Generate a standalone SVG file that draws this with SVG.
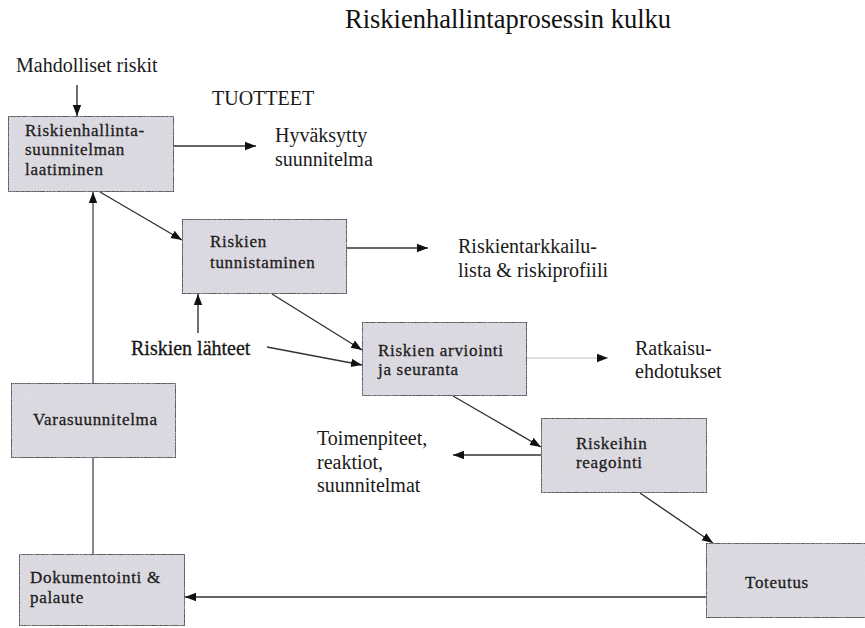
<svg xmlns="http://www.w3.org/2000/svg" width="865" height="628" viewBox="0 0 865 628">
  <style>
    text { font-family: "Liberation Serif", "Times New Roman", serif; }
    .box { fill: #dddbe2; stroke: #3a3a3e; stroke-width: 1.6; filter: url(#grain); }
    .bt { font-size: 17px; letter-spacing: 0.7px; fill: #1c1c1c; stroke: #1c1c1c; stroke-width: 0.3px; }
    .lbl { font-size: 20px; fill: #1a1a1a; }
    .title { font-size: 26.5px; fill: #111; }
    .conn { fill: none; stroke: #333; stroke-width: 1.4; }
    .arr { marker-end: url(#head); }
    .faint { stroke: #c2c2c6; stroke-width: 1.1; }
    .blue { stroke: #4c5566; }
  </style>
  <defs>
    <marker id="head" markerUnits="userSpaceOnUse" markerWidth="12" markerHeight="10" refX="11" refY="5" orient="auto">
      <path d="M0,0.8 L11,5 L0,9.2 Z" fill="#111"/>
    </marker>
    <!-- fine speckle texture for the box fills -->
    <filter id="grain" x="0" y="0" width="1" height="1">
      <feTurbulence type="fractalNoise" baseFrequency="0.9" numOctaves="2" seed="7" result="n"/>
      <feColorMatrix in="n" type="matrix" values="0 0 0 0 0.62  0 0 0 0 0.6  0 0 0 0 0.66  0 0 0 1.4 -0.62" result="speck"/>
      <feComposite in="speck" in2="SourceGraphic" operator="atop"/>
    </filter>
  </defs>

  <rect width="865" height="628" fill="#ffffff"/>

  <text class="title" x="345" y="28">Riskienhallintaprosessin kulku</text>

  <!-- free-standing labels -->
  <g id="labels">
    <text class="lbl" x="16" y="72" font-size="19">Mahdolliset riskit</text>
    <text class="lbl" x="212" y="105" font-size="19">TUOTTEET</text>
    <text class="lbl" x="275" y="142">Hyväksytty</text>
    <text class="lbl" x="275" y="166">suunnitelma</text>
    <text class="lbl" x="458" y="253">Riskientarkkailu-</text>
    <text class="lbl" x="458" y="277">lista &amp; riskiprofiili</text>
    <text class="lbl" x="131" y="355" font-size="19" fill="#111" stroke="#111" stroke-width="0.3">Riskien lähteet</text>
    <text class="lbl" x="635" y="355">Ratkaisu-</text>
    <text class="lbl" x="635" y="378">ehdotukset</text>
    <text class="lbl" x="317" y="445">Toimenpiteet,</text>
    <text class="lbl" x="317" y="469">reaktiot,</text>
    <text class="lbl" x="317" y="492">suunnitelmat</text>
  </g>

  <!-- connectors -->
  <g id="connectors">
    <line class="conn arr" x1="77" y1="85" x2="77" y2="116"/>
    <line class="conn arr" x1="174" y1="146" x2="256" y2="146"/>
    <line class="conn arr" x1="100" y1="192" x2="182" y2="240"/>
    <line class="conn arr" x1="347" y1="248" x2="428" y2="248"/>
    <line class="conn arr" x1="198" y1="333" x2="198" y2="294"/>
    <line class="conn arr" x1="272" y1="294" x2="362" y2="350"/>
    <line class="conn arr" x1="267" y1="347" x2="362" y2="365"/>
    <line class="conn arr faint" x1="527" y1="358" x2="608" y2="358"/>
    <line class="conn arr" x1="453" y1="396" x2="541" y2="447"/>
    <line class="conn arr" x1="541" y1="455" x2="453" y2="455"/>
    <line class="conn arr" x1="640" y1="493" x2="713" y2="543"/>
    <line class="conn arr" x1="706" y1="597" x2="185" y2="597"/>
    <line class="conn blue" x1="93" y1="554" x2="93" y2="458"/>
    <line class="conn arr blue" x1="93" y1="383" x2="93" y2="192"/>
  </g>

  <!-- process steps -->
  <g id="suunnittelu">
    <rect class="box" x="8" y="116" width="166" height="76"/>
    <text class="bt" x="25" y="136">Riskienhallinta-</text>
    <text class="bt" x="25" y="155">suunnitelman</text>
    <text class="bt" x="25" y="175">laatiminen</text>
  </g>
  <g id="tunnistaminen">
    <rect class="box" x="182" y="219" width="165" height="75"/>
    <text class="bt" x="210" y="247">Riskien</text>
    <text class="bt" x="210" y="268">tunnistaminen</text>
  </g>
  <g id="arviointi">
    <rect class="box" x="362" y="322" width="165" height="74"/>
    <text class="bt" x="378" y="356">Riskien arviointi</text>
    <text class="bt" x="378" y="375">ja seuranta</text>
  </g>
  <g id="reagointi">
    <rect class="box" x="541" y="418" width="166" height="75"/>
    <text class="bt" x="576" y="449">Riskeihin</text>
    <text class="bt" x="576" y="468">reagointi</text>
  </g>
  <g id="toteutus">
    <rect class="box" x="706" y="543" width="165" height="75"/>
    <text class="bt" x="745" y="588">Toteutus</text>
  </g>
  <g id="dokumentointi">
    <rect class="box" x="19" y="554" width="166" height="72"/>
    <text class="bt" x="30" y="583">Dokumentointi &amp;</text>
    <text class="bt" x="30" y="603">palaute</text>
  </g>
  <g id="varasuunnitelma">
    <rect class="box" x="11" y="383" width="165" height="75"/>
    <text class="bt" x="33" y="425">Varasuunnitelma</text>
  </g>
</svg>
